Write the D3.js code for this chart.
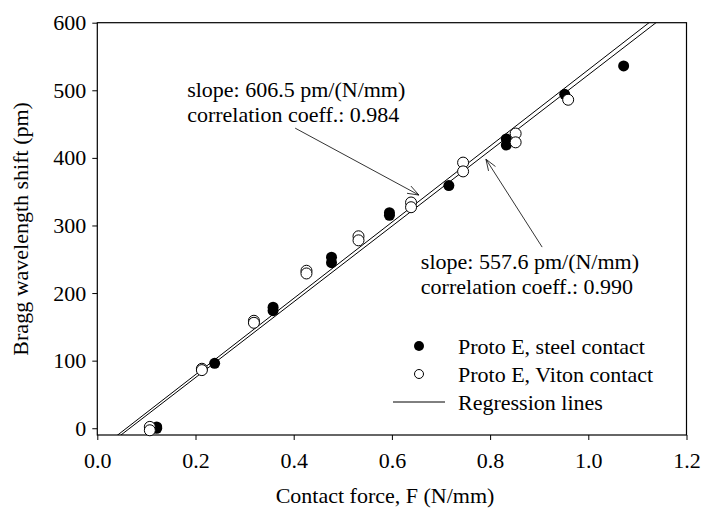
<!DOCTYPE html>
<html>
<head>
<meta charset="utf-8">
<script src="https://cdn.jsdelivr.net/npm/d3@7"></script>
<style>
  body { margin: 0; background: #fff; }
  svg text { font-family: 'Liberation Serif'; }
</style>
</head>
<body>
<div id="chart"></div>
<script>
// force values (N/mm) and wavelength shift (pm)
const steelForce = [0.121, 0.121, 0.239, 0.358, 0.358, 0.477, 0.477, 0.595, 0.595, 0.716, 0.833, 0.833, 0.952, 1.072];
const steelShift = [0, 2, 96, 179, 174, 253, 245, 319, 315, 359, 428, 419, 494, 536];
const vitonForce = [0.107, 0.107, 0.213, 0.213, 0.319, 0.319, 0.426, 0.426, 0.532, 0.532, 0.639, 0.639, 0.745, 0.745, 0.852, 0.852, 0.959];
const vitonShift = [2, -3, 88, 86, 159, 156, 233, 229, 284, 278, 334, 327, 393, 380, 436, 423, 486];

// regression lines as drawn (slope, intercept)
const lineSlope = [563.7, 559.8];
const lineIntercept = [-33.4, -37.0];

const xTicks = [0, 0.2, 0.4, 0.6, 0.8, 1.0, 1.2];
const yTicks = [0, 100, 200, 300, 400, 500, 600];

const notes = [
  { lines: ["slope: 606.5 pm/(N/mm)", "correlation coeff.: 0.984"], x: 0.183, y: 490, from: [0.403, 444], to: [0.655, 345] },
  { lines: ["slope: 557.6 pm/(N/mm)", "correlation coeff.: 0.990"], x: 0.659, y: 236, from: [0.906, 268], to: [0.7915, 398] }
];
const legendItems = ["Proto E, steel contact", "Proto E, Viton contact", "Regression lines"];

const width = 701, height = 508;
const margin = { top: 22.7, right: 14.5, bottom: 73, left: 97.3 };
const fs = 22;
const font = "'Liberation Serif'";

const svg = d3.select("#chart").append("svg")
  .attr("width", width)
  .attr("height", height)
  .style("font-family", font);

const x = d3.scaleLinear().domain([0, 1.2]).range([margin.left, width - margin.right]);
const y = d3.scaleLinear().domain([-10, 600]).range([height - margin.bottom, margin.top]);

svg.append("defs").append("clipPath").attr("id", "plot")
  .append("rect")
  .attr("x", x(0)).attr("y", y(600))
  .attr("width", x(1.2) - x(0)).attr("height", y(-10) - y(600));

// axes
const xAxis = svg.append("g")
  .attr("transform", `translate(0,${y(-10)})`)
  .call(d3.axisBottom(x).tickValues(xTicks).tickFormat(d3.format(".1f")).tickSize(5).tickPadding(12));
const yAxis = svg.append("g")
  .attr("transform", `translate(${x(0)},0)`)
  .call(d3.axisLeft(y).tickValues(yTicks).tickSize(5).tickPadding(6));

[xAxis, yAxis].forEach(a => {
  a.attr("font-family", null).attr("font-size", null);
  a.select(".domain").remove();
  a.selectAll("text").style("font-size", fs + "px").style("font-family", font).attr("fill", "#000");
  a.selectAll("line").attr("stroke", "#000");
});

// frame
svg.append("rect")
  .attr("x", x(0)).attr("y", y(600))
  .attr("width", x(1.2) - x(0)).attr("height", y(-10) - y(600))
  .attr("fill", "none").attr("stroke", "#000").attr("stroke-width", 1.2);

// axis titles
svg.append("text")
  .attr("x", 385).attr("y", 503)
  .attr("text-anchor", "middle")
  .style("font-size", fs + "px")
  .text("Contact force, F (N/mm)");
svg.append("text")
  .attr("transform", `translate(28,${(y(600) + y(-10)) / 2}) rotate(-90)`)
  .attr("text-anchor", "middle")
  .style("font-size", fs + "px")
  .text("Bragg wavelength shift (pm)");

// regression lines
const plot = svg.append("g").attr("clip-path", "url(#plot)");
plot.selectAll("line.reg")
  .data(lineSlope.map((s, i) => ({ s, b: lineIntercept[i] })))
  .join("line")
  .attr("class", "reg")
  .attr("x1", x(0)).attr("y1", d => y(d.b))
  .attr("x2", x(1.2)).attr("y2", d => y(d.s * 1.2 + d.b))
  .attr("stroke", "#000").attr("stroke-width", 1);

// points
const r = 5.5;
svg.append("g").selectAll("circle")
  .data(steelForce.map((f, i) => [f, steelShift[i]]))
  .join("circle")
  .attr("cx", d => x(d[0])).attr("cy", d => y(d[1])).attr("r", r)
  .attr("fill", "#000");
svg.append("g").selectAll("circle")
  .data(vitonForce.map((f, i) => [f, vitonShift[i]]))
  .join("circle")
  .attr("cx", d => x(d[0])).attr("cy", d => y(d[1])).attr("r", r)
  .attr("fill", "#fff").attr("stroke", "#000").attr("stroke-width", 1);

// annotations with arrows
const arrowHead = (x1, y1, x2, y2) => {
  const a = Math.atan2(y2 - y1, x2 - x1), L = 12, w = 0.35;
  return `M${x2 - L * Math.cos(a - w)},${y2 - L * Math.sin(a - w)}L${x2},${y2}L${x2 - L * Math.cos(a + w)},${y2 - L * Math.sin(a + w)}`;
};
notes.forEach(n => {
  const t = svg.append("text")
    .attr("x", x(n.x)).attr("y", y(n.y))
    .style("font-size", fs + "px");
  n.lines.forEach((l, i) => t.append("tspan").attr("x", x(n.x)).attr("dy", i ? 25 : 0).text(l));
  const x1 = x(n.from[0]), y1 = y(n.from[1]), x2 = x(n.to[0]), y2 = y(n.to[1]);
  svg.append("line").attr("x1", x1).attr("y1", y1).attr("x2", x2).attr("y2", y2)
    .attr("stroke", "#000").attr("stroke-width", 0.8);
  svg.append("path").attr("d", arrowHead(x1, y1, x2, y2))
    .attr("fill", "none").attr("stroke", "#000").attr("stroke-width", 0.8);
});

// legend
const lg = svg.append("g").attr("transform", "translate(419,346)");
legendItems.forEach((txt, i) => {
  const g = lg.append("g").attr("transform", `translate(0,${i * 28})`);
  if (i === 0) g.append("circle").attr("r", 5).attr("fill", "#000");
  if (i === 1) g.append("circle").attr("r", 4.5).attr("fill", "#fff").attr("stroke", "#000");
  if (i === 2) g.append("line").attr("x1", -26).attr("x2", 26).attr("stroke", "#000");
  g.append("text").attr("x", 39).attr("dy", "0.35em").style("font-size", fs + "px").text(txt);
});
</script>
</body>
</html>
